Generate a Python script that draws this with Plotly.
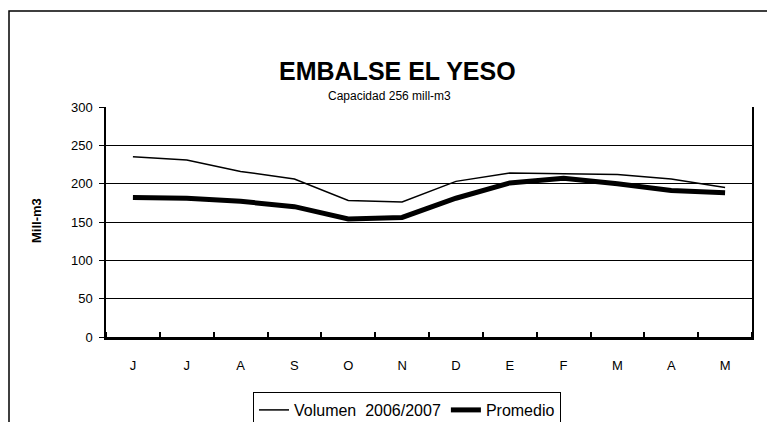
import plotly.graph_objects as go

# ── Data ──
MONTHS = ["J", "J", "A", "S", "O", "N", "D", "E", "F", "M", "A", "M"]
VOLUMEN = [235, 231, 216, 206, 178, 176, 203, 214, 213, 212, 206, 195]
PROMEDIO = [182, 181, 177, 170, 154, 156, 181, 201, 207, 200, 191, 188]
Y_TICKS = [0, 50, 100, 150, 200, 250, 300]

FONT = "Liberation Sans, Arial, sans-serif"
BLACK = "#000000"

x_idx = list(range(len(MONTHS)))
boundaries = [i - 0.5 for i in range(len(MONTHS) + 1)]

fig = go.Figure()
fig.add_trace(go.Scatter(
    x=x_idx, y=VOLUMEN,
    mode="lines",
    name="Volumen\u00a0\u00a02006/2007",
    line=dict(color=BLACK, width=1.5),
))
fig.add_trace(go.Scatter(
    x=x_idx, y=PROMEDIO,
    mode="lines",
    name="Promedio",
    line=dict(color=BLACK, width=5),
))

# page body adds an 8px margin, so work in page pixels and shift back
OFF = 8
W, H = 775 - OFF, 422 - OFF
L, R, T, B = 106 - OFF, 752 - OFF, 107 - OFF, 337 - OFF


def px(x):
    return (x - OFF - L) / (R - L)


def py(y):
    return (B - (y - OFF)) / (B - T)


fig.update_layout(
    width=W, height=H,
    margin=dict(l=L, r=W - R, t=T, b=H - B, autoexpand=False),
    plot_bgcolor="white",
    paper_bgcolor="white",
    font=dict(family=FONT, color=BLACK, size=13),
    showlegend=True,
    legend=dict(
        orientation="h",
        x=px(407), xanchor="center",
        y=py(392), yanchor="top",
        bordercolor=BLACK, borderwidth=1,
        font=dict(size=16, color=BLACK),
        tracegroupgap=0,
    ),
    annotations=[
        dict(text="<b>EMBALSE EL YESO</b>", xref="paper", yref="paper",
             x=px(397), y=py(71), xanchor="center", yanchor="middle",
             showarrow=False,
             font=dict(size=25, color=BLACK, family=FONT)),
        dict(text="Capacidad 256 mill-m3", xref="paper", yref="paper",
             x=px(389), y=py(96), xanchor="center", yanchor="middle",
             showarrow=False,
             font=dict(size=12, color=BLACK, family=FONT)),
        dict(text="<b>Mill-m3</b>", xref="paper", yref="paper",
             x=px(36), y=py(221), xanchor="center", yanchor="middle",
             showarrow=False, textangle=-90,
             font=dict(size=13, color=BLACK, family=FONT)),
    ],
    shapes=[
        dict(type="rect", xref="paper", yref="paper",
             x0=px(9), x1=px(800), y0=py(460), y1=py(11),
             line=dict(color=BLACK, width=1.5), layer="below"),
    ],
)

fig.update_xaxes(
    range=[-0.5, len(MONTHS) - 0.5],
    tickmode="array", tickvals=x_idx, ticktext=MONTHS,
    ticks="", showgrid=False, zeroline=False,
    showline=True, linecolor=BLACK, linewidth=2.5,
    ticklabelstandoff=15,
    tickfont=dict(size=13, color=BLACK),
    minor=dict(tickmode="array", tickvals=boundaries, ticks="inside",
               ticklen=5, tickcolor=BLACK, tickwidth=1.5, showgrid=False),
)
fig.update_yaxes(
    range=[0, 300],
    tickmode="array", tickvals=Y_TICKS,
    ticks="outside", ticklen=5, tickcolor=BLACK, tickwidth=1,
    ticklabelstandoff=4,
    showgrid=True, gridcolor=BLACK, gridwidth=1,
    zeroline=False,
    showline=True, linecolor=BLACK, linewidth=1.5, mirror=True,
    tickfont=dict(size=13, color=BLACK),
)

fig.write_html("out.html")
